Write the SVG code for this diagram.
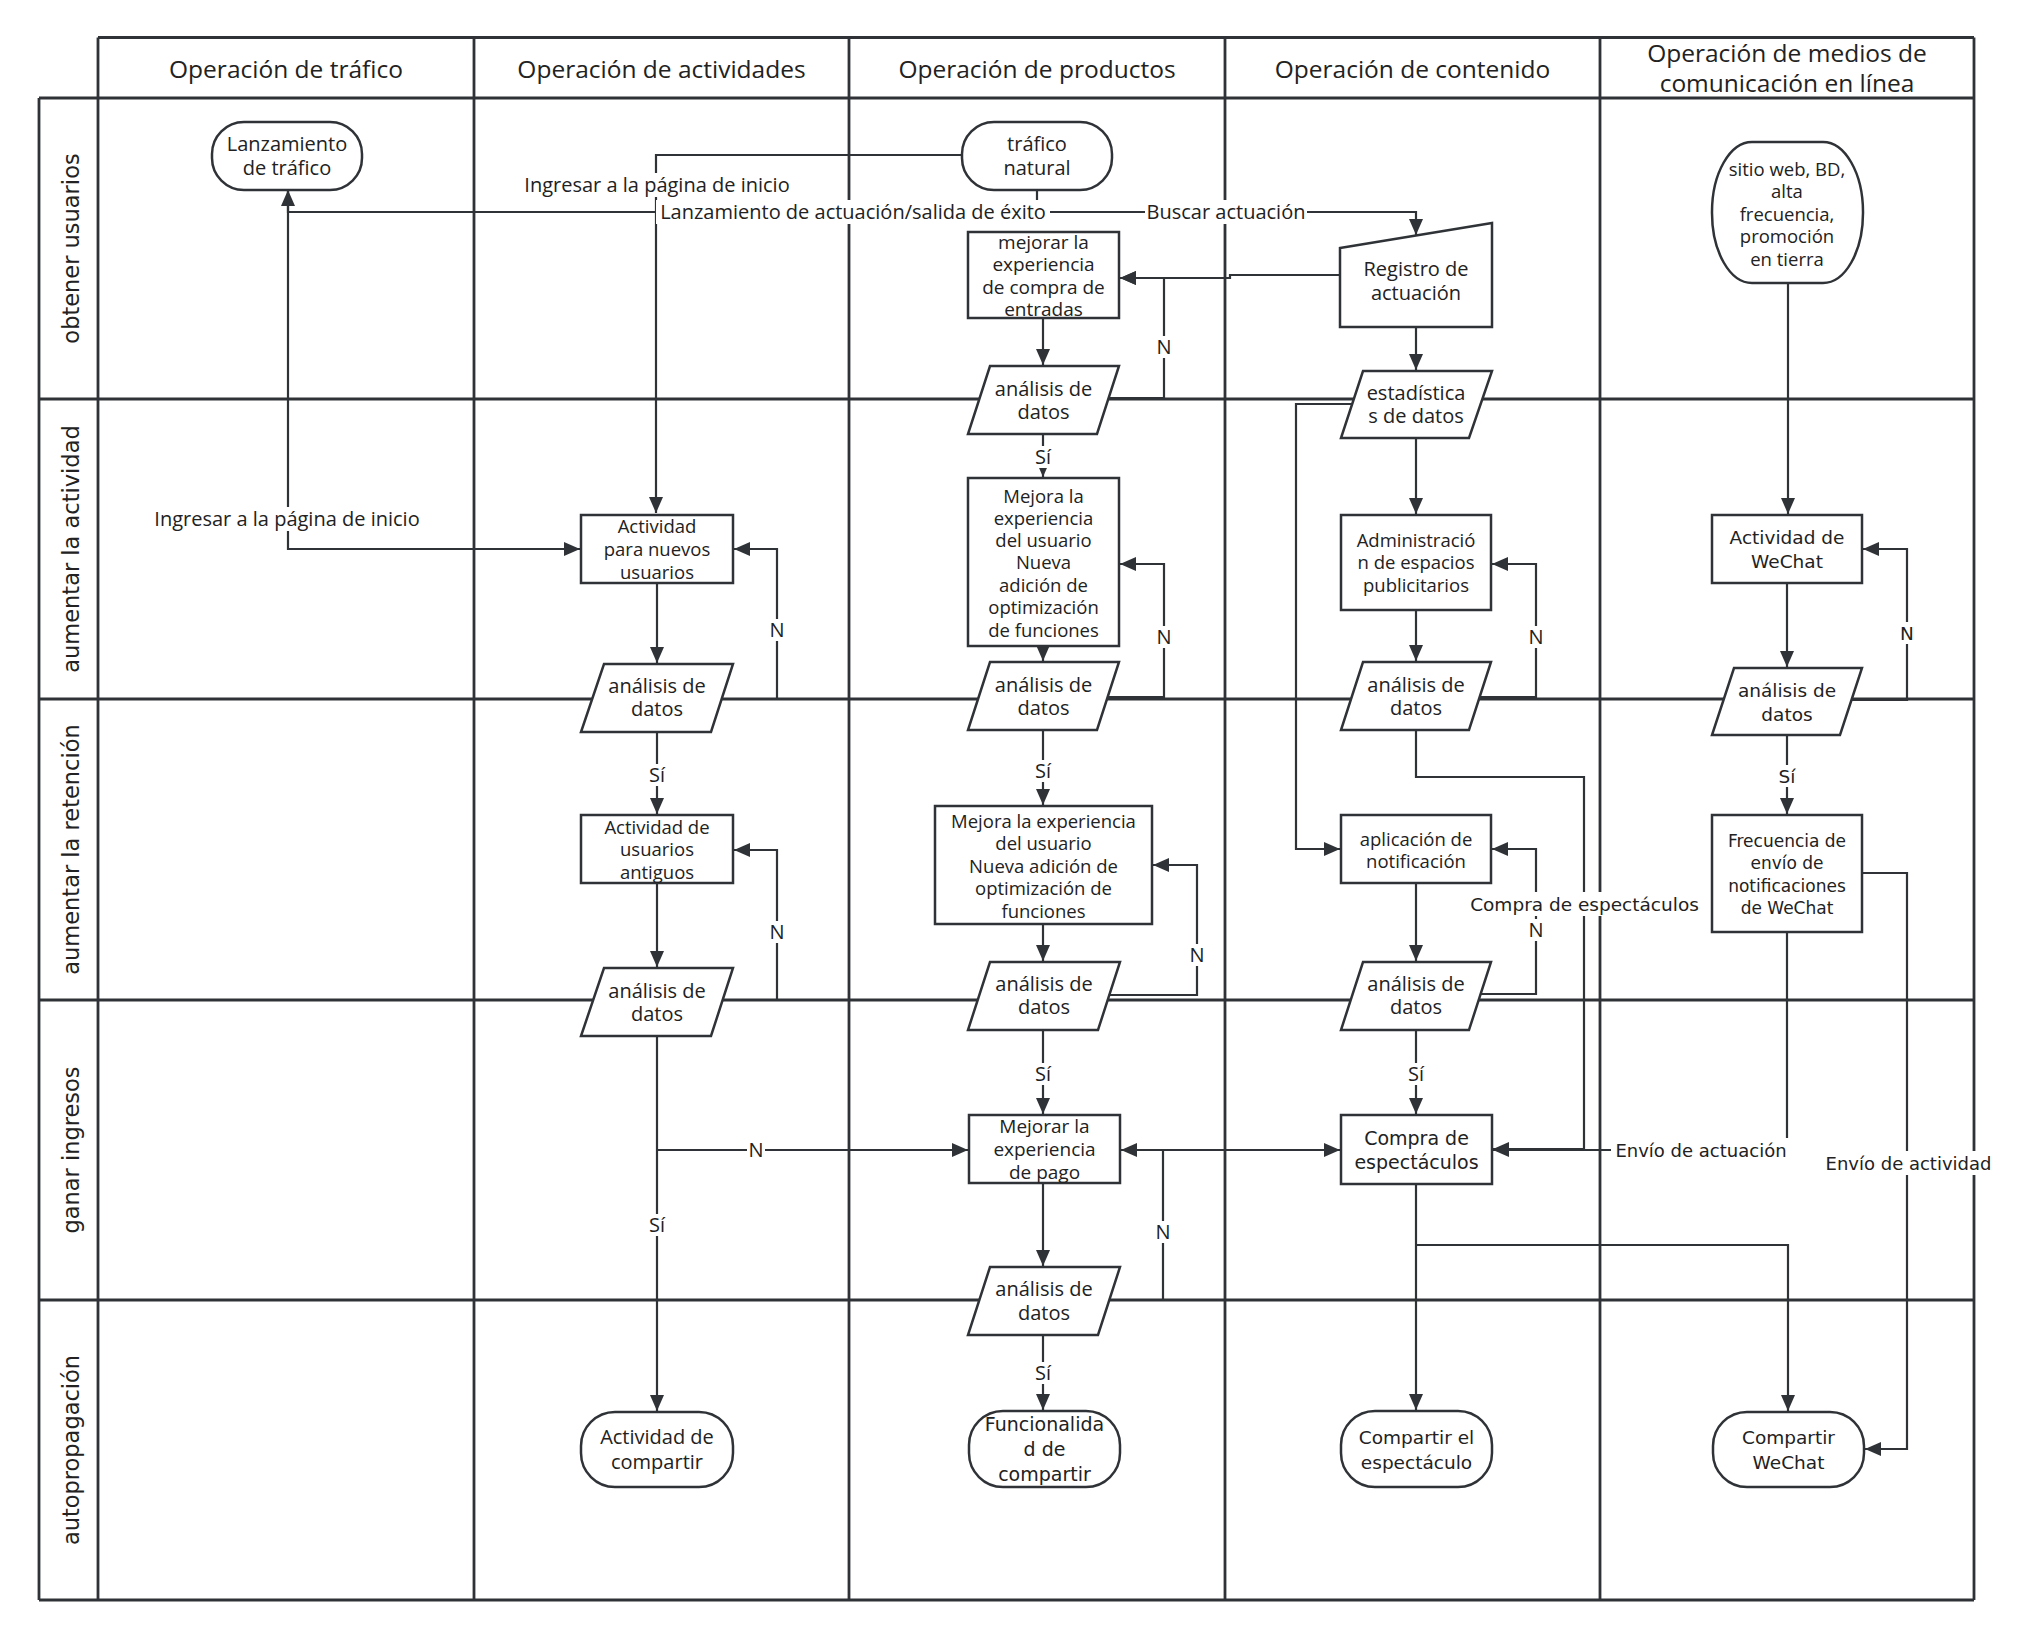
<svg xmlns="http://www.w3.org/2000/svg" width="2030" height="1636" viewBox="0 0 2030 1636">
<style>
.grid{fill:none;stroke:#2f3337;stroke-width:2.8}
.hd{font-family:"Open Sans","Noto Sans",sans-serif;font-size:24.5px;fill:#222;text-anchor:middle}
.lane{font-family:"DejaVu Sans",Verdana,sans-serif;font-size:22.5px;fill:#222;text-anchor:middle}
.sh{fill:#fff;stroke:#2f3337;stroke-width:2.5}
.t{font-family:"Open Sans","Noto Sans",sans-serif;font-size:20px;fill:#222;text-anchor:middle}
.d{font-family:"DejaVu Sans",Verdana,sans-serif;font-size:18.5px;fill:#222;text-anchor:middle}
.c{fill:none;stroke:#2f3337;stroke-width:2.2;marker-end:url(#ah)}
.bg{fill:#fff}
</style>
<defs>
<marker id="ah" markerUnits="userSpaceOnUse" markerWidth="16" markerHeight="14" viewBox="0 0 16 14" refX="16" refY="7" orient="auto">
<path d="M0,0 L16,7 L0,14 z" fill="#2f3337"/>
</marker>
</defs>
<rect width="2030" height="1636" fill="#fff"/>
<g id="lanes">
<path class="grid" d="M98 37.5 H1974 M39 98 H1974 M39 399 H1974 M39 699 H1974 M39 1000 H1974 M39 1300 H1974 M39 1600 H1974 M39 98 V1600 M98 37.5 V1600 M474 37.5 V1600 M849 37.5 V1600 M1225 37.5 V1600 M1600 37.5 V1600 M1974 37.5 V1600"/>
<text class="hd" x="286" y="77.5">Operación de tráfico</text>
<text class="hd" x="661.5" y="77.5">Operación de actividades</text>
<text class="hd" x="1037" y="77.5">Operación de productos</text>
<text class="hd" x="1412.5" y="77.5">Operación de contenido</text>
<text class="hd" x="1787"><tspan x="1787" y="62">Operación de medios de</tspan><tspan x="1787" y="92">comunicación en línea</tspan></text>
<text class="lane" transform="translate(79,248.5) rotate(-90)">obtener usuarios</text>
<text class="lane" transform="translate(79,549) rotate(-90)">aumentar la actividad</text>
<text class="lane" transform="translate(79,849.5) rotate(-90)">aumentar la retención</text>
<text class="lane" transform="translate(79,1150) rotate(-90)">ganar ingresos</text>
<text class="lane" transform="translate(79,1450) rotate(-90)">autopropagación</text>
</g>
<g id="connectors">
<path class="c" d="M962 155 H656 V513"/>
<path class="c" d="M1037 190 V212 H288 V190"/>
<path class="c" d="M1037 212 H1416 V235"/>
<path class="c" d="M1340 275 H1230 V278 H1120"/>
<path class="c" d="M1043 318 V365"/>
<path class="c" d="M1108 398 H1164 V278 H1120"/>
<path class="c" d="M1043 434 V477"/>
<path class="c" d="M1043 646 V661"/>
<path class="c" d="M1108 697 H1164 V564 H1120"/>
<path class="c" d="M1043 730 V805"/>
<path class="c" d="M1043 924 V961"/>
<path class="c" d="M1109 995 H1197 V865 H1153"/>
<path class="c" d="M1043 1030 V1114"/>
<path class="c" d="M1043 1183 V1266"/>
<path class="c" d="M1109 1300 H1163 V1150 H1121"/>
<path class="c" d="M1163 1150 H1340"/>
<path class="c" d="M1043 1335 V1410"/>
<path class="c" d="M288 190 V549 H580"/>
<path class="c" d="M657 583 V663"/>
<path class="c" d="M722 699 H777 V549 H734"/>
<path class="c" d="M657 732 V814"/>
<path class="c" d="M657 883 V967"/>
<path class="c" d="M723 1000 H777 V850 H734"/>
<path class="c" d="M657 1036 V1411"/>
<path class="c" d="M657 1150 H968"/>
<path class="c" d="M1416 327 V370"/>
<path class="c" d="M1416 438 V514"/>
<path class="c" d="M1352 404 H1296 V849 H1340"/>
<path class="c" d="M1416 610 V661"/>
<path class="c" d="M1480 697 H1536 V564 H1492"/>
<path class="c" d="M1416 730 V777 H1584 V1149 H1493"/>
<path class="c" d="M1416 883 V961"/>
<path class="c" d="M1481 994 H1536 V849 H1492"/>
<path class="c" d="M1416 1030 V1114"/>
<path class="c" d="M1416 1184 V1410"/>
<path class="c" d="M1416 1245 H1788 V1411"/>
<path class="c" d="M1788 283 V514"/>
<path class="c" d="M1787 583 V667"/>
<path class="c" d="M1852 700 H1907 V549 H1863"/>
<path class="c" d="M1787 735 V814"/>
<path class="c" d="M1863 873 H1907 V1449 H1865"/>
<path class="c" d="M1787 932 V1150 H1493"/>
</g>
<g id="n-lanzamiento-trafico"><rect class="sh" x="212" y="122" width="150" height="68" rx="32" ry="32"/><text class="t"><tspan x="287" y="150.5">Lanzamiento</tspan><tspan x="287" y="174.5">de tráfico</tspan></text></g>
<g id="n-trafico-natural"><rect class="sh" x="962" y="122" width="150" height="68" rx="32" ry="32"/><text class="t"><tspan x="1037" y="150.5">tráfico</tspan><tspan x="1037" y="174.5">natural</tspan></text></g>
<g id="n-mejorar-compra"><rect class="sh" x="968" y="232" width="151" height="86"/><text class="t" style="font-size:19px"><tspan x="1043.5" y="248.5">mejorar la</tspan><tspan x="1043.5" y="271">experiencia</tspan><tspan x="1043.5" y="293.5">de compra de</tspan><tspan x="1043.5" y="316">entradas</tspan></text></g>
<g id="n-registro"><path class="sh" d="M1340 248 L1492 223 L1492 327 L1340 327 Z"/><text class="t"><tspan x="1416" y="275.5">Registro de</tspan><tspan x="1416" y="299.5">actuación</tspan></text></g>
<g id="n-estadisticas"><path class="sh" d="M1363 371 L1492 371 L1469 438 L1341 438 Z"/><text class="t"><tspan x="1416" y="400">estadística</tspan><tspan x="1416" y="423">s de datos</tspan></text></g>
<g id="n-analisis-p1"><path class="sh" d="M990 366 L1119 366 L1097 434 L968 434 Z"/><text class="t"><tspan x="1043.5" y="395.5">análisis de</tspan><tspan x="1043.5" y="418.5">datos</tspan></text></g>
<g id="n-sitio-web"><rect class="sh" x="1712" y="142" width="151" height="141" rx="40" ry="70"/><text class="t" style="font-size:18.5px"><tspan x="1787" y="175.5">sitio web, BD,</tspan><tspan x="1787" y="198">alta</tspan><tspan x="1787" y="220.5">frecuencia,</tspan><tspan x="1787" y="243">promoción</tspan><tspan x="1787" y="265.5">en tierra</tspan></text></g>
<g id="n-actividad-nuevos"><rect class="sh" x="581" y="515" width="152" height="68"/><text class="t" style="font-size:18.5px"><tspan x="657" y="532.5">Actividad</tspan><tspan x="657" y="555.5">para nuevos</tspan><tspan x="657" y="578.5">usuarios</tspan></text></g>
<g id="n-analisis-a2"><path class="sh" d="M604 664 L733 664 L711 732 L581 732 Z"/><text class="t"><tspan x="657" y="692.5">análisis de</tspan><tspan x="657" y="715.5">datos</tspan></text></g>
<g id="n-actividad-antiguos"><rect class="sh" x="581" y="815" width="152" height="68"/><text class="t" style="font-size:18.5px"><tspan x="657" y="833.5">Actividad de</tspan><tspan x="657" y="856">usuarios</tspan><tspan x="657" y="878.5">antiguos</tspan></text></g>
<g id="n-analisis-a3"><path class="sh" d="M604 968 L733 968 L711 1036 L581 1036 Z"/><text class="t"><tspan x="657" y="997.5">análisis de</tspan><tspan x="657" y="1020.5">datos</tspan></text></g>
<g id="n-actividad-compartir"><rect class="sh" x="581" y="1412" width="152" height="75" rx="34" ry="34"/><text class="t"><tspan x="657" y="1443.5">Actividad de</tspan><tspan x="657" y="1468.5">compartir</tspan></text></g>
<g id="n-mejora-1"><rect class="sh" x="968" y="478" width="151" height="168"/><text class="t" style="font-size:18.5px"><tspan x="1043.5" y="502.5">Mejora la</tspan><tspan x="1043.5" y="524.5">experiencia</tspan><tspan x="1043.5" y="546.5">del usuario</tspan><tspan x="1043.5" y="569">Nueva</tspan><tspan x="1043.5" y="591.5">adición de</tspan><tspan x="1043.5" y="614">optimización</tspan><tspan x="1043.5" y="636.5">de funciones</tspan></text></g>
<g id="n-analisis-p2"><path class="sh" d="M990 662 L1119 662 L1097 730 L968 730 Z"/><text class="t"><tspan x="1043.5" y="691.5">análisis de</tspan><tspan x="1043.5" y="715">datos</tspan></text></g>
<g id="n-mejora-2"><rect class="sh" x="935" y="806" width="217" height="118"/><text class="t" style="font-size:18.5px"><tspan x="1043.5" y="827.5">Mejora la experiencia</tspan><tspan x="1043.5" y="849.5">del usuario</tspan><tspan x="1043.5" y="872.5">Nueva adición de</tspan><tspan x="1043.5" y="894.5">optimización de</tspan><tspan x="1043.5" y="917.5">funciones</tspan></text></g>
<g id="n-analisis-p3"><path class="sh" d="M990 962 L1120 962 L1098 1030 L968 1030 Z"/><text class="t"><tspan x="1044" y="990.5">análisis de</tspan><tspan x="1044" y="1013.5">datos</tspan></text></g>
<g id="n-mejorar-pago"><rect class="sh" x="969" y="1115" width="151" height="68"/><text class="t" style="font-size:19px"><tspan x="1044.5" y="1132.5">Mejorar la</tspan><tspan x="1044.5" y="1156">experiencia</tspan><tspan x="1044.5" y="1178.5">de pago</tspan></text></g>
<g id="n-analisis-p4"><path class="sh" d="M990 1267 L1120 1267 L1098 1335 L968 1335 Z"/><text class="t"><tspan x="1044" y="1296">análisis de</tspan><tspan x="1044" y="1320">datos</tspan></text></g>
<g id="n-funcionalidad"><rect class="sh" x="969" y="1411" width="151" height="76" rx="34" ry="34"/><text class="d" style="font-size:19px"><tspan x="1044.5" y="1430.5">Funcionalida</tspan><tspan x="1044.5" y="1456">d de</tspan><tspan x="1044.5" y="1480.5">compartir</tspan></text></g>
<g id="n-administracion"><rect class="sh" x="1341" y="515" width="150" height="95"/><text class="t" style="font-size:18.5px"><tspan x="1416" y="546.5">Administració</tspan><tspan x="1416" y="569">n de espacios</tspan><tspan x="1416" y="592">publicitarios</tspan></text></g>
<g id="n-analisis-c2"><path class="sh" d="M1363 662 L1491 662 L1469 730 L1341 730 Z"/><text class="t"><tspan x="1416" y="691.5">análisis de</tspan><tspan x="1416" y="715">datos</tspan></text></g>
<g id="n-aplicacion"><rect class="sh" x="1341" y="815" width="150" height="68"/><text class="t" style="font-size:18.5px"><tspan x="1416" y="845.5">aplicación de</tspan><tspan x="1416" y="867.5">notificación</tspan></text></g>
<g id="n-analisis-c3"><path class="sh" d="M1363 962 L1491 962 L1469 1030 L1341 1030 Z"/><text class="t"><tspan x="1416" y="990.5">análisis de</tspan><tspan x="1416" y="1013.5">datos</tspan></text></g>
<g id="n-compra"><rect class="sh" x="1341" y="1115" width="151" height="69"/><text class="d" style="font-size:19px"><tspan x="1416.5" y="1144.5">Compra de</tspan><tspan x="1416.5" y="1168.5">espectáculos</tspan></text></g>
<g id="n-compartir-espectaculo"><rect class="sh" x="1341" y="1411" width="151" height="76" rx="34" ry="34"/><text class="d"><tspan x="1416.5" y="1443.5">Compartir el</tspan><tspan x="1416.5" y="1468.5">espectáculo</tspan></text></g>
<g id="n-actividad-wechat"><rect class="sh" x="1712" y="515" width="150" height="68"/><text class="d"><tspan x="1787" y="543.5">Actividad de</tspan><tspan x="1787" y="567.5">WeChat</tspan></text></g>
<g id="n-analisis-m"><path class="sh" d="M1734 668 L1862 668 L1840 735 L1712 735 Z"/><text class="d"><tspan x="1787" y="696.5">análisis de</tspan><tspan x="1787" y="720.5">datos</tspan></text></g>
<g id="n-frecuencia"><rect class="sh" x="1712" y="815" width="150" height="117"/><text class="d" style="font-size:17px"><tspan x="1787" y="846.5">Frecuencia de</tspan><tspan x="1787" y="869">envío de</tspan><tspan x="1787" y="891.5">notificaciones</tspan><tspan x="1787" y="913.5">de WeChat</tspan></text></g>
<g id="n-compartir-wechat"><rect class="sh" x="1713" y="1412" width="151" height="75" rx="34" ry="34"/><text class="d"><tspan x="1788.5" y="1443.5">Compartir</tspan><tspan x="1788.5" y="1468.5">WeChat</tspan></text></g>
<g id="connector-labels">
<rect class="bg" x="518" y="173" width="278" height="24"/><text class="t" x="657" y="191.5">Ingresar a la página de inicio</text>
<rect class="bg" x="656" y="200" width="394" height="24"/><text class="t" x="853" y="218.5">Lanzamiento de actuación/salida de éxito</text>
<rect class="bg" x="1145" y="200" width="162" height="24"/><text class="t" x="1226" y="218.5">Buscar actuación</text>
<rect class="bg" x="148" y="507" width="278" height="24"/><text class="t" x="287" y="525.5">Ingresar a la página de inicio</text>
<rect class="bg" x="1155" y="336" width="18" height="22"/><text class="t" x="1164" y="353.5">N</text>
<rect class="bg" x="1155" y="626" width="18" height="22"/><text class="t" x="1164" y="643.5">N</text>
<rect class="bg" x="1188" y="944" width="18" height="22"/><text class="t" x="1197" y="961.5">N</text>
<rect class="bg" x="1154" y="1221" width="18" height="22"/><text class="t" x="1163" y="1238.5">N</text>
<rect class="bg" x="768" y="619" width="18" height="22"/><text class="t" x="777" y="636.5">N</text>
<rect class="bg" x="768" y="921" width="18" height="22"/><text class="t" x="777" y="938.5">N</text>
<rect class="bg" x="747" y="1139" width="18" height="22"/><text class="t" x="756" y="1156.5">N</text>
<rect class="bg" x="1527" y="626" width="18" height="22"/><text class="t" x="1536" y="643.5">N</text>
<rect class="bg" x="1527" y="919" width="18" height="22"/><text class="t" x="1536" y="936.5">N</text>
<rect class="bg" x="1898" y="622" width="18" height="22"/><text class="d" x="1907" y="639.5">N</text>
<rect class="bg" x="1033" y="446" width="20" height="22"/><text class="t" x="1043" y="463.5">Sí</text>
<rect class="bg" x="1033" y="760" width="20" height="22"/><text class="t" x="1043" y="777.5">Sí</text>
<rect class="bg" x="1033" y="1063" width="20" height="22"/><text class="t" x="1043" y="1080.5">Sí</text>
<rect class="bg" x="1033" y="1362" width="20" height="22"/><text class="t" x="1043" y="1379.5">Sí</text>
<rect class="bg" x="647" y="764" width="20" height="22"/><text class="t" x="657" y="781.5">Sí</text>
<rect class="bg" x="647" y="1214" width="20" height="22"/><text class="t" x="657" y="1231.5">Sí</text>
<rect class="bg" x="1406" y="1063" width="20" height="22"/><text class="t" x="1416" y="1080.5">Sí</text>
<rect class="bg" x="1777" y="765" width="20" height="22"/><text class="d" x="1787" y="782.5">Sí</text>
<rect class="bg" x="1467" y="892" width="235" height="24"/><text class="d" x="1584.5" y="910.5">Compra de espectáculos</text>
<rect class="bg" x="1611" y="1138" width="180" height="24"/><text class="d" style="font-size:18px" x="1701" y="1156.5">Envío de actuación</text>
<rect class="bg" x="1822" y="1151" width="173" height="24"/><text class="d" style="font-size:18px" x="1908.5" y="1169.5">Envío de actividad</text>
</g>
</svg>
